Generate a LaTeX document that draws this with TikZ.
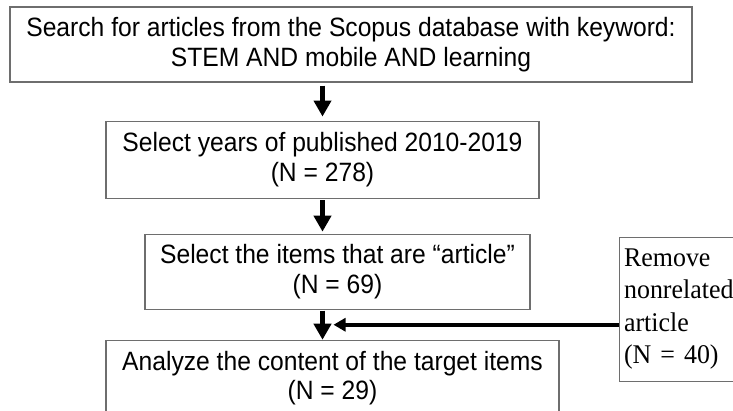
\documentclass[tikz,border=0pt]{standalone}
\usepackage{fontspec}
\setmainfont[FakeStretch=0.93]{Liberation Sans}
\newfontfamily\notefont[FakeStretch=0.96]{Liberation Serif}
\usetikzlibrary{positioning, arrows.meta, calc}
\definecolor{boxgray}{RGB}{110, 110, 110}

\begin{document}
\begin{tikzpicture}[x=1pt, y=-1pt, node distance=35pt,
    stagebox/.style={draw=boxgray, line width=1.1pt, fill=white, align=center, inner sep=6pt,
        font=\fontsize{26.5pt}{29.5pt}\selectfont},
    notebox/.style={draw=boxgray, line width=1.1pt, fill=white, align=left, inner sep=5pt,
        font=\notefont\fontsize{27pt}{32.5pt}\selectfont},
    flow/.style={-{Triangle[width=17pt, length=16pt]}, line width=4.5pt},
    sideflow/.style={-{Triangle[width=13pt, length=12pt]}, line width=4pt}]
            \path[use as bounding box, clip] (0,0) rectangle (733,411);

            \node[stagebox, minimum width=682pt, minimum height=75pt] (search) at (351,44.5)
                {Search for articles from the Scopus database with keyword:\\STEM AND mobile AND learning};
            \node[stagebox, minimum width=433pt, minimum height=77pt, below=38pt of search, xshift=-28.5pt] (years)
                {Select years of published 2010-2019\\(N = 278)};
            \node[stagebox, minimum width=385pt, minimum height=75pt, below=35pt of years, xshift=15pt] (items)
                {Select the items that are “article”\\(N = 69)};
            \node[stagebox, minimum width=453pt, minimum height=76pt, below=30pt of items, xshift=-5pt] (analyze)
                {Analyze the content of the target items\\(N = 29)};
            \node[notebox, text width=117pt, minimum height=144pt, right=88pt of items, yshift=-37.5pt] (remove)
                {Remove\\nonrelated\\article\\(N = 40)};

            \coordinate (join) at ($(items.south -| years.south)!.5!(analyze.north -| years.south)$);

            \draw[flow, shorten <=3pt, shorten >=4pt] (years.north |- search.south) -- (years.north);
            \draw[flow, shorten <=1.5pt, shorten >=2pt] (years.south) -- (items.north -| years.south);
            \draw[flow, shorten <=1pt] (items.south -| years.south) -- (analyze.north -| years.south);
            \draw[sideflow] (remove.west |- join) -- ([xshift=11pt]join);
        \end{tikzpicture}
\end{document}
